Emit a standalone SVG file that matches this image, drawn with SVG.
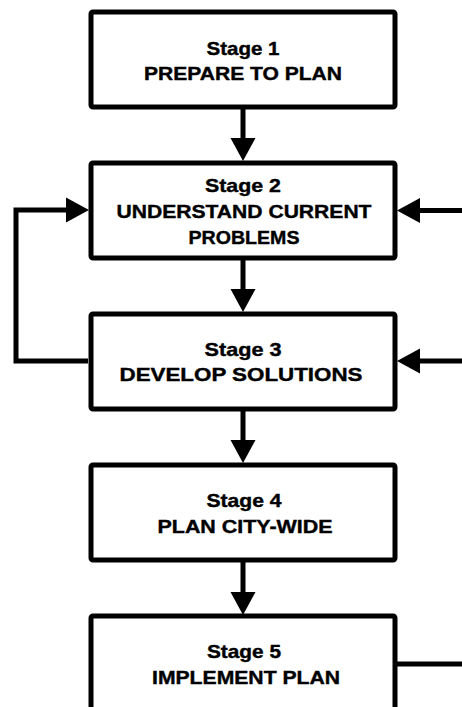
<svg xmlns="http://www.w3.org/2000/svg" width="462" height="707" viewBox="0 0 462 707">
<style>
.box{fill:#fff;stroke:#000;stroke-width:5}
.ln{fill:none;stroke:#000;stroke-width:5;stroke-linejoin:miter}
.t{font-family:"Liberation Sans",Arial,sans-serif;font-weight:bold;font-size:19px;text-anchor:middle;fill:#000;stroke:#000;stroke-width:0.4}
</style>
<defs>
<marker id="ah" markerUnits="userSpaceOnUse" markerWidth="23" markerHeight="25" refX="0" refY="12.5" orient="auto" overflow="visible">
<path d="M0,0 L23,12.5 L0,25 Z" fill="#000"/>
</marker>
</defs>
<rect width="462" height="707" fill="#fff"/>
<g id="connectors">
<line class="ln" x1="243" y1="109" x2="243" y2="138" marker-end="url(#ah)"/>
<line class="ln" x1="243" y1="260" x2="243" y2="289" marker-end="url(#ah)"/>
<line class="ln" x1="243" y1="411" x2="243" y2="440" marker-end="url(#ah)"/>
<line class="ln" x1="243" y1="562" x2="243" y2="592" marker-end="url(#ah)"/>
<polyline class="ln" points="88,361 16,361 16,210 66,210" marker-end="url(#ah)"/>
<line class="ln" x1="462" y1="210.5" x2="420" y2="210.5" marker-end="url(#ah)"/>
<line class="ln" x1="462" y1="361" x2="420" y2="361" marker-end="url(#ah)"/>
<line class="ln" x1="397" y1="664" x2="462" y2="664"/>
</g>
<g id="stage1">
<rect class="box" x="91" y="12" width="304" height="95" rx="2"/>
<text class="t" x="243" y="54.5" textLength="73" lengthAdjust="spacingAndGlyphs">Stage 1</text>
<text class="t" x="243" y="80" textLength="198" lengthAdjust="spacingAndGlyphs">PREPARE TO PLAN</text>
</g>
<g id="stage2">
<rect class="box" x="91" y="163" width="304" height="95" rx="2"/>
<text class="t" x="243" y="191.5" textLength="76" lengthAdjust="spacingAndGlyphs">Stage 2</text>
<text class="t" x="244" y="218" textLength="255" lengthAdjust="spacingAndGlyphs">UNDERSTAND CURRENT</text>
<text class="t" x="244" y="244" textLength="111" lengthAdjust="spacingAndGlyphs">PROBLEMS</text>
</g>
<g id="stage3">
<rect class="box" x="91" y="314" width="304" height="95" rx="2"/>
<text class="t" x="243" y="355.5" textLength="77" lengthAdjust="spacingAndGlyphs">Stage 3</text>
<text class="t" x="241" y="381" textLength="243" lengthAdjust="spacingAndGlyphs">DEVELOP SOLUTIONS</text>
</g>
<g id="stage4">
<rect class="box" x="91" y="465" width="304" height="95" rx="2"/>
<text class="t" x="244" y="507" textLength="75" lengthAdjust="spacingAndGlyphs">Stage 4</text>
<text class="t" x="245" y="533" textLength="175" lengthAdjust="spacingAndGlyphs">PLAN CITY-WIDE</text>
</g>
<g id="stage5">
<rect class="box" x="91" y="616" width="304" height="110" rx="2"/>
<text class="t" x="244" y="658" textLength="74" lengthAdjust="spacingAndGlyphs">Stage 5</text>
<text class="t" x="246" y="683.5" textLength="188" lengthAdjust="spacingAndGlyphs">IMPLEMENT PLAN</text>
</g>
</svg>
